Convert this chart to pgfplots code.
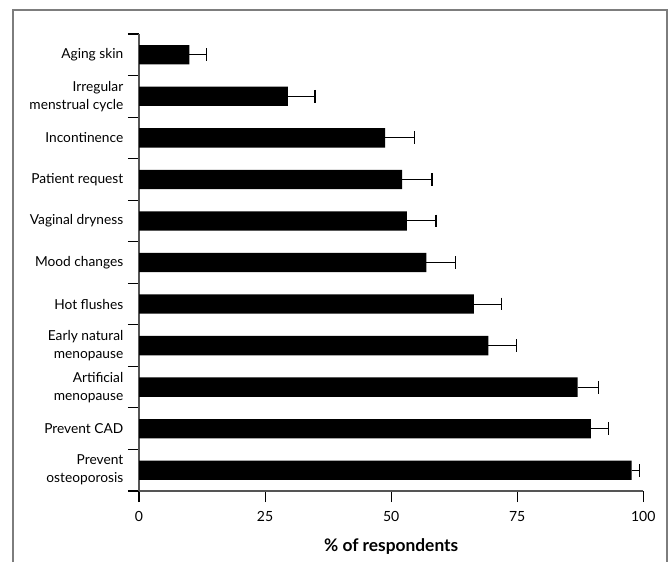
\documentclass[border=0pt]{standalone}
\usepackage{fontspec}
\setmainfont{Lato}
\usepackage{pgfplots}
\pgfplotsset{compat=1.18}
\definecolor{framegray}{RGB}{125,125,125}
\definecolor{axisgray}{RGB}{85,85,85}

\begin{document}
\begin{tikzpicture}
  % page = 670 x 562 px at 0.75pt per px, axis box SW corner at px (139,491)
  \useasboundingbox (-104.25pt,-53.25pt) rectangle (398.25pt,368.25pt);
  \draw[framegray, line width=1.4pt] (-94.7pt,-53.25pt) -- (-94.7pt,360.75pt) -- (396pt,360.75pt) -- (396pt,-53.25pt);

  \begin{axis}[
      at={(0pt,0pt)}, anchor=south west,
      scale only axis,
      width=378.2pt, height=342.75pt,
      xbar, bar width=14.5pt,
      xmin=0, xmax=100,
      ymin=-0.5, ymax=10.5,
      y dir=reverse,
      axis x line*=bottom, axis y line*=left,
      axis line style={axisgray, line width=0.8pt},
      xtick={0,25,50,75,100},
      ytick={0,...,10},
      yticklabels={Aging skin, Irregular\\menstrual cycle, Incontinence, Patient request, Vaginal dryness, Mood changes, Hot flushes, Early natural\\menopause, Artificial\\menopause, Prevent CAD, Prevent\\osteoporosis},
      yticklabel style={align=right, font=\fontsize{10.3}{13.5}\selectfont},
      xticklabel style={font=\fontsize{10.5}{12}\selectfont, yshift=-3.5pt},
      minor ytick={-0.5,0.5,...,10.5},
      tick align=outside,
      major tick length=8.25pt, minor tick length=8.25pt,
      major y tick style={draw=none},
      tick style={black, line width=0.8pt},
      /pgf/number format/assume math mode=true,
      xlabel={\textbf{\% of respondents}},
      xlabel style={font=\fontsize{13}{15}\selectfont, yshift=-6pt},
      clip=false,
    ]
    \addplot[fill=black, draw=none,
      error bars/.cd, x dir=plus, x explicit,
      error bar style={black, line width=0.8pt},
      error mark options={black, rotate=90, mark size=4.8pt, line width=0.8pt}]
      coordinates {
        (9.97,0) +- (3.4,0)
        (29.5,1) +- (5.4,0)
        (48.8,2) +- (5.9,0)
        (52.2,3) +- (5.9,0)
        (53.1,4) +- (5.8,0)
        (57.0,5) +- (5.7,0)
        (66.4,6) +- (5.5,0)
        (69.3,7) +- (5.5,0)
        (87.0,8) +- (4.1,0)
        (89.6,9) +- (3.5,0)
        (97.7,10) +- (1.6,0)
      };
  \end{axis}
\end{tikzpicture}
\end{document}
